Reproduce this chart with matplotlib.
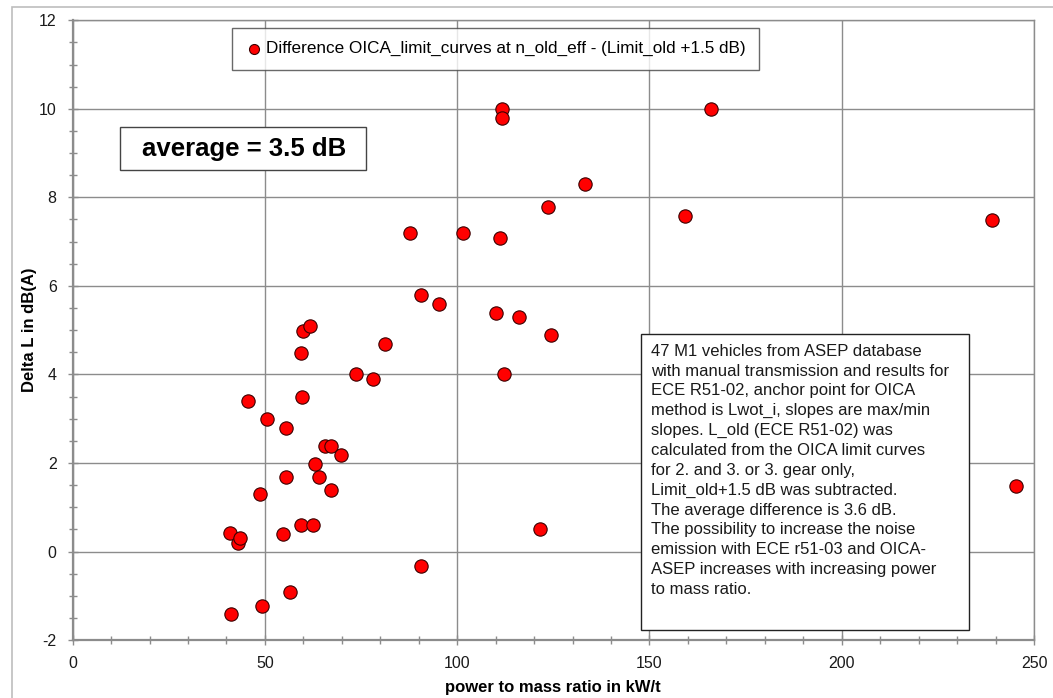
import matplotlib

matplotlib.use("Agg")
import matplotlib.pyplot as plt
from matplotlib.patches import Rectangle
from matplotlib.ticker import MultipleLocator

plt.rcParams["font.family"] = ["Liberation Sans", "DejaVu Sans"]
plt.rcParams["axes.unicode_minus"] = False

# ---------- data ---------- #
power_to_mass = [
    40.9, 43.1, 43.5, 45.7, 50.6, 55.6, 59.7, 59.3, 59.9, 61.7,
    81.2, 73.6, 78.1, 112.2, 124.4, 116.0, 110.2, 95.3, 90.6, 65.7,
    67.3, 69.9, 63.0, 64.1, 55.4, 67.2, 48.7, 59.3, 62.5, 54.8,
    121.6, 90.7, 56.6, 49.3, 41.1, 111.7, 111.7, 133.3, 123.5, 87.6,
    101.5, 111.0, 166.1, 159.2, 239.0, 245.3,
]
delta_l = [
    0.41, 0.19, 0.30, 3.40, 3.00, 2.78, 3.49, 4.49, 4.99, 5.09,
    4.69, 4.00, 3.89, 4.00, 4.89, 5.29, 5.38, 5.58, 5.80, 2.38,
    2.38, 2.18, 1.98, 1.69, 1.69, 1.39, 1.29, 0.59, 0.59, 0.40,
    0.50, -0.32, -0.92, -1.22, -1.41, 10.00, 9.79, 8.29, 7.79, 7.19,
    7.19, 7.09, 10.00, 7.58, 7.49, 1.49,
]

series_label = "Difference OICA_limit_curves at n_old_eff - (Limit_old +1.5 dB)"
avg_label = "average = 3.5 dB"
note = (
    "47 M1 vehicles from ASEP database\n"
    "with manual transmission and results for\n"
    "ECE R51-02, anchor point for OICA\n"
    "method is Lwot_i, slopes are max/min\n"
    "slopes. L_old (ECE R51-02) was\n"
    "calculated from the OICA limit curves\n"
    "for 2. and 3. or 3. gear only,\n"
    "Limit_old+1.5 dB was subtracted.\n"
    "The average difference is 3.6 dB.\n"
    "The possibility to increase the noise\n"
    "emission with ECE r51-03 and OICA-\n"
    "ASEP increases with increasing power\n"
    "to mass ratio."
)

GRID = "#8c8c8c"

fig = plt.figure(figsize=(10.53, 6.98), dpi=100)
ax = fig.add_axes([0.069, 0.083, 0.913, 0.888])

# outer chart frame
fig.patches.append(Rectangle((0.011, -0.01), 0.99, 1.0, transform=fig.transFigure,
                             fill=False, edgecolor="#bdbdbd", lw=1.2))

ax.scatter(power_to_mass, delta_l, s=92, c="#ff0000", edgecolors="#3a0000",
           linewidths=0.8, zorder=3, label=series_label)

ax.set_xlim(0, 250)
ax.set_ylim(-2, 12)
ax.xaxis.set_major_locator(MultipleLocator(50))
ax.xaxis.set_minor_locator(MultipleLocator(10))
ax.yaxis.set_major_locator(MultipleLocator(2))
ax.yaxis.set_minor_locator(MultipleLocator(0.5))
ax.grid(True, which="major", color=GRID, lw=1.0)
ax.set_axisbelow(True)

for side in ["top", "right"]:
    ax.spines[side].set_color(GRID)
    ax.spines[side].set_linewidth(1.0)
for side in ["left", "bottom"]:
    ax.spines[side].set_color(GRID)
    ax.spines[side].set_linewidth(1.6)

ax.tick_params(which="both", direction="inout", color=GRID, labelsize=11.5,
               labelcolor="#1a1a1a")
ax.tick_params(which="major", length=7, width=1.0, pad=8)
ax.tick_params(which="minor", length=6, width=1.0)

ax.set_xlabel("power to mass ratio in kW/t", fontsize=12, fontweight="bold")
ax.set_ylabel("Delta L in dB(A)", fontsize=12, fontweight="bold")
ax.xaxis.label.set_va("center")
ax.yaxis.label.set_va("center")
ax.xaxis.set_label_coords(0.5, -0.077)
ax.yaxis.set_label_coords(-0.045, 0.5)

leg = ax.legend(loc="center", bbox_to_anchor=(0.44, 0.954), fontsize=12.3,
                frameon=True, fancybox=False, handlelength=0.9, handletextpad=0.25,
                borderpad=0.8, borderaxespad=0, markerscale=0.75)
leg.get_frame().set_edgecolor("#444444")
leg.get_frame().set_linewidth(1.0)

ax.text(0.178, 0.793, avg_label, transform=ax.transAxes, fontsize=18.5,
        fontweight="bold", ha="center", va="center", zorder=5)
ax.add_patch(Rectangle((0.049, 0.758), 0.256, 0.069, transform=ax.transAxes,
                       fc="white", ec="#444444", lw=1.0, zorder=4))

ax.add_patch(Rectangle((0.591, 0.016), 0.341, 0.4775, transform=ax.transAxes,
                       fc="white", ec="#222222", lw=1.0, zorder=4))
ax.text(0.602, 0.478, note, transform=ax.transAxes, fontsize=12, ha="left",
        va="top", linespacing=1.40, color="#1a1a1a", zorder=5)

fig.savefig("out.png", dpi=100)
